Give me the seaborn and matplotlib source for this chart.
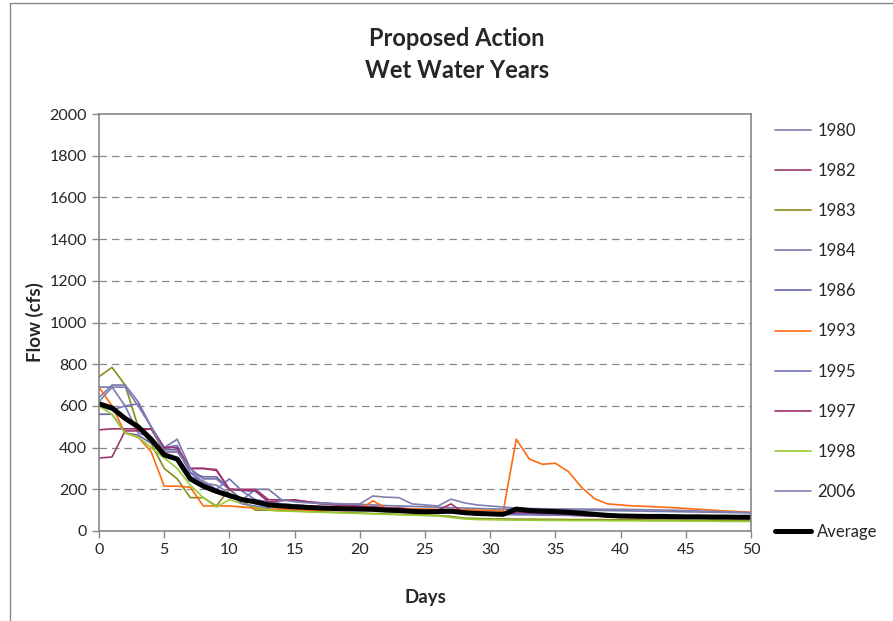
import matplotlib
matplotlib.use("Agg")
import matplotlib.pyplot as plt
import matplotlib.patches as mpatches
import seaborn as sns
import pandas as pd
import numpy as np

days = list(range(51))

y1980 = [690,690,600,470,450,360,340,260,240,200,160,150,130,120,115,112,110,108,106,104,102,100,98,96,94,92,90,88,86,84,82,80,78,78,77,76,75,74,73,72,71,70,70,69,68,68,67,66,66,65,65]
y1982 = [350,355,480,480,490,380,380,300,300,295,200,200,200,150,150,145,140,135,130,125,120,115,112,110,105,102,100,100,90,85,82,80,85,82,80,78,76,74,72,70,70,69,68,68,67,66,66,65,65,64,64]
y1983 = [740,785,700,500,420,300,250,160,160,120,200,145,100,100,98,96,94,92,90,88,86,84,82,80,78,76,74,70,62,60,58,58,57,57,56,56,55,55,55,54,54,54,53,53,53,52,52,52,52,51,51]
y1984 = [640,700,700,620,500,400,440,300,250,250,200,150,200,200,150,145,140,135,132,130,128,125,122,120,118,116,114,112,110,108,106,105,104,104,103,102,101,100,99,98,97,96,95,94,93,92,91,90,89,88,87]
y1986 = [560,560,470,460,420,390,390,280,260,260,200,195,190,140,130,125,120,118,115,112,110,108,105,103,100,98,96,94,92,90,88,86,84,82,80,79,78,77,76,75,74,73,72,71,70,70,69,68,68,67,67]
y1993 = [690,600,470,450,380,215,215,210,120,120,120,115,110,105,105,102,100,100,100,100,100,145,110,108,106,105,104,103,102,100,98,95,440,345,320,325,285,210,155,130,125,120,118,115,112,108,104,100,96,93,90]
y1995 = [600,580,600,610,500,400,410,280,230,200,250,190,150,140,130,125,120,115,112,110,108,106,104,102,100,98,95,92,88,85,82,80,80,79,78,77,76,75,74,73,72,71,70,70,69,68,68,67,67,66,66]
y1997 = [485,490,490,490,490,400,400,300,300,290,200,195,195,140,145,150,140,130,125,120,115,115,110,110,100,95,100,130,85,80,78,76,90,88,86,84,80,76,72,68,66,65,64,64,63,63,62,62,61,61,60]
y1998 = [600,560,470,450,400,350,300,220,160,115,150,130,115,100,96,94,92,90,88,86,84,82,80,78,76,74,72,65,58,55,54,53,52,52,51,51,50,50,50,49,49,49,48,48,48,47,47,47,46,46,46]
y2006 = [620,690,690,600,500,380,380,300,230,220,180,130,120,110,150,140,135,132,130,130,130,168,162,160,130,125,120,153,135,125,120,115,110,108,107,106,106,105,105,104,104,103,102,101,100,98,96,94,92,90,88]
average = [610,590,540,500,440,365,345,250,215,190,170,150,140,125,120,116,113,110,108,106,105,104,100,98,94,92,93,95,88,84,82,80,105,98,95,93,90,85,80,75,72,71,70,70,69,68,68,67,67,66,66]

years = ["1980","1982","1983","1984","1986","1993","1995","1997","1998","2006"]
series = [y1980,y1982,y1983,y1984,y1986,y1993,y1995,y1997,y1998,y2006]
colors = ["#7B7BB0","#9B3B6B","#8B8B1B","#7777AA","#6666AA","#FF6A10","#7070C0","#A0306E","#99CC33","#8080B0"]

xticks = list(range(0, 51, 5))
yticks = list(range(0, 2001, 200))

df = pd.DataFrame({
    "Days": np.tile(days, len(years)),
    "Flow": np.concatenate(series),
    "Year": np.repeat(years, len(days)),
})
avg_df = pd.DataFrame({"Days": days, "Flow": average})

sns.set_style("white")
plt.rcParams["font.family"] = ["Lato", "DejaVu Sans"]

fig = plt.figure(figsize=(8.93, 6.21), dpi=100)
W, H = 893, 621
ax = fig.add_axes([99 / W, 1 - 531 / H, (751 - 99) / W, (531 - 114) / H])

sns.lineplot(data=df, x="Days", y="Flow", hue="Year", hue_order=years,
             palette=dict(zip(years, colors)), linewidth=1.2, ax=ax)
sns.lineplot(data=avg_df, x="Days", y="Flow", color="black", linewidth=3.6,
             label="Average", ax=ax)

ax.set_xlim(0, 50)
ax.set_ylim(0, 2000)
ax.set_xticks(xticks)
ax.set_yticks(yticks)
ax.tick_params(axis="both", labelsize=11.5, direction="out", length=5,
               color="#888888", width=1, bottom=True, left=True)
for y in yticks[1:-1]:
    ax.axhline(y, color="#888888", linestyle=(0, (6, 4)), linewidth=0.9, zorder=0)
for s in ax.spines.values():
    s.set_color("#888888")
    s.set_linewidth(1.2)

ax.set_xlabel("Days", fontsize=13.5, fontweight="bold", labelpad=23)
ax.set_ylabel("Flow (cfs)", fontsize=13.5, fontweight="bold", labelpad=4)

fig.text(457 / W, 1 - 38 / H, "Proposed Action", ha="center", va="center",
         fontsize=17, fontweight="bold")
fig.text(457 / W, 1 - 71 / H, "Wet Water Years", ha="center", va="center",
         fontsize=17, fontweight="bold")

leg = ax.legend(loc="upper left", bbox_to_anchor=(768 / W, 1 - 116 / H),
                bbox_transform=fig.transFigure, frameon=False, fontsize=12,
                handlelength=2.2, handletextpad=0.35, labelspacing=1.45,
                borderaxespad=0)

border = mpatches.Rectangle((10 / W, -0.05), 1.2, (621 - 3) / H + 0.05,
                            transform=fig.transFigure, fill=False,
                            edgecolor="#888888", linewidth=1.0, clip_on=False)
fig.patches.append(border)

fig.savefig("out.png", dpi=100)
